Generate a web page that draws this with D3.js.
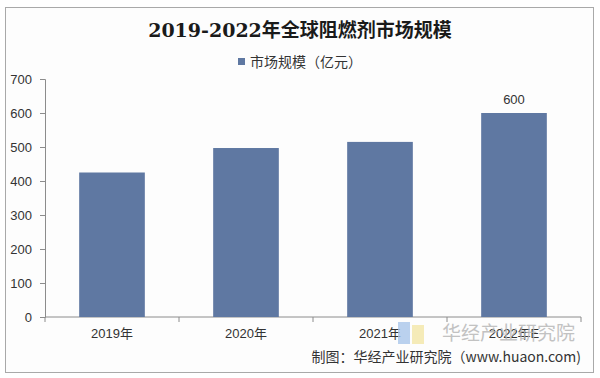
<!DOCTYPE html>
<html>
<head>
<meta charset="utf-8">
<script src="https://cdn.jsdelivr.net/npm/d3@7"></script>
<style>
  body { margin: 0; background: #fff; }
  svg { display: block; }
</style>
</head>
<body>
<svg id="chart" width="600" height="378"></svg>
<script>
// chart data
var years = ["2019年", "2020年", "2021年", "2022年E"];
var marketSize = [425, 497, 515, 600];
var yTicks = [0, 100, 200, 300, 400, 500, 600, 700];
var labelled = ["2022年E"];   // only this bar carries a value label

var svg = d3.select("#chart"),
    margin = {top: 79, right: 19, bottom: 61, left: 45},
    width = +svg.attr("width") - margin.left - margin.right,
    height = +svg.attr("height") - margin.top - margin.bottom;

// frame
svg.append("rect")
   .attr("x", 5.5).attr("y", 7.5)
   .attr("width", 588).attr("height", 365)
   .attr("fill", "#fdfdfd")
   .attr("stroke", "#a9a9a9");

svg.append("text")
   .attr("x", 300).attr("y", 37)
   .attr("text-anchor", "middle")
   .style("font-family", "'DejaVu Serif', 'Noto Sans CJK SC', serif")
   .style("font-weight", "bold")
   .style("font-size", "19px")
   .attr("fill", "#1a1a1a")
   .text("2019-2022年全球阻燃剂市场规模");

// legend
var legend = svg.append("g").attr("transform", "translate(238,62)");
legend.append("rect")
      .attr("x", 0).attr("y", -4)
      .attr("width", 7).attr("height", 7)
      .attr("fill", "#5f78a2");
legend.append("text")
      .attr("x", 12).attr("y", 5)
      .style("font-family", "'Noto Sans CJK SC', sans-serif")
      .style("font-size", "14px")
      .attr("fill", "#333")
      .text("市场规模（亿元）");

var g = svg.append("g")
   .attr("transform", "translate(" + margin.left + "," + margin.top + ")");

var x = d3.scaleBand()
   .domain(years)
   .range([0, width])
   .paddingInner(0.51)
   .paddingOuter(0.255);

var y = d3.scaleLinear()
   .domain([0, 700])
   .range([height, 0]);

// y axis
var yAxis = g.append("g")
   .attr("class", "axis axis--y")
   .call(d3.axisLeft(y).tickValues(yTicks).tickSize(5).tickPadding(8));
yAxis.select(".domain").attr("stroke", "#8c8c8c");
yAxis.selectAll(".tick line").attr("stroke", "#8c8c8c");
yAxis.selectAll("text")
     .style("font-family", "'Liberation Sans', Arial, sans-serif")
     .style("font-size", "13px")
     .attr("fill", "#333");

// x axis with ticks at category boundaries
var bounds = d3.range(years.length + 1).map(function (i) { return i * x.step(); });
var xg = g.append("g")
   .attr("class", "axis axis--x")
   .attr("transform", "translate(0," + height + ")");
xg.append("line")
  .attr("x1", 0).attr("x2", width)
  .attr("stroke", "#8c8c8c");
xg.selectAll(".bt")
  .data(bounds)
  .enter().append("line")
  .attr("x1", function (d) { return d; })
  .attr("x2", function (d) { return d; })
  .attr("y1", 0).attr("y2", 5)
  .attr("stroke", "#8c8c8c");
xg.selectAll(".lbl")
  .data(years)
  .enter().append("text")
  .attr("x", function (d) { return x(d) + x.bandwidth() / 2; })
  .attr("y", 21)
  .attr("text-anchor", "middle")
  .style("font-family", "'Liberation Sans', 'Noto Sans CJK SC', sans-serif")
  .style("font-size", "13px")
  .attr("fill", "#333")
  .text(function (d) { return d; });

// bars
g.selectAll(".bar")
 .data(marketSize)
 .enter().append("rect")
 .attr("class", "bar")
 .attr("x", function (d, i) { return x(years[i]); })
 .attr("y", function (d) { return y(d); })
 .attr("width", x.bandwidth())
 .attr("height", function (d) { return height - y(d); })
 .attr("fill", "#5f78a2");

g.selectAll(".val")
 .data(marketSize.filter(function (d, i) { return labelled.indexOf(years[i]) >= 0; }))
 .enter().append("text")
 .attr("x", x(labelled[0]) + x.bandwidth() / 2)
 .attr("y", function (d) { return y(d) - 9; })
 .attr("text-anchor", "middle")
 .style("font-family", "'Liberation Sans', Arial, sans-serif")
 .style("font-size", "13px")
 .attr("fill", "#333")
 .text(function (d) { return d; });

// watermark
svg.append("rect").attr("x", 398).attr("y", 322).attr("width", 12).attr("height", 22)
   .attr("fill", "#a9c6ea").attr("opacity", 0.8);
svg.append("rect").attr("x", 412).attr("y", 325).attr("width", 12).attr("height", 19)
   .attr("fill", "#f3e6a6").attr("opacity", 0.8);
svg.append("text")
   .attr("x", 442).attr("y", 340)
   .style("font-family", "'Noto Sans CJK SC', sans-serif")
   .style("font-size", "19px")
   .attr("fill", "#b8b8b8").attr("opacity", 0.85)
   .text("华经产业研究院");

// source note
svg.append("text")
   .attr("x", 581).attr("y", 362)
   .attr("text-anchor", "end")
   .style("font-family", "'Noto Sans CJK SC', sans-serif")
   .style("font-size", "14px")
   .attr("fill", "#333")
   .text("制图：华经产业研究院（www.huaon.com)");
</script>
</body>
</html>
